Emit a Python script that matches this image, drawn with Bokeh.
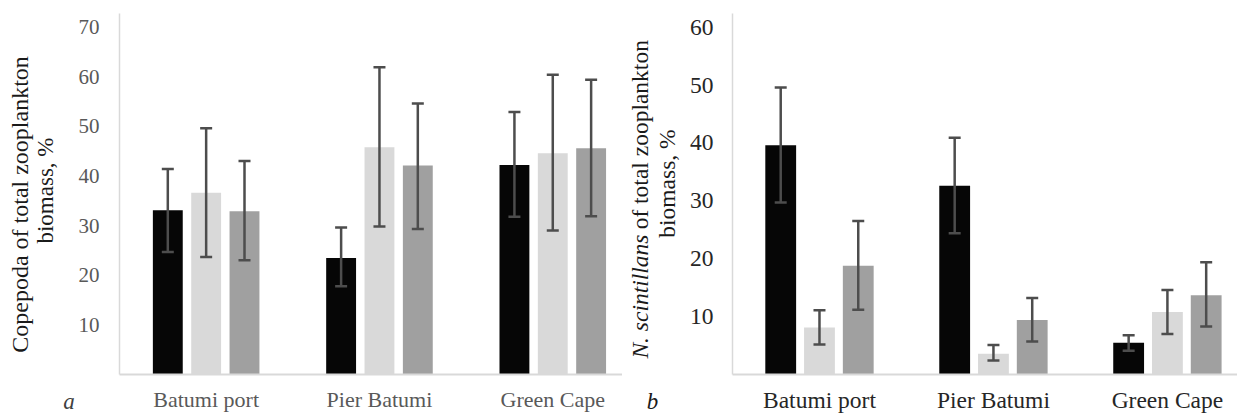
from bokeh.plotting import figure
from bokeh.models import (ColumnDataSource, Whisker, TeeHead, FixedTicker, Range1d)
from bokeh.core.properties import value
from bokeh.layouts import row
from bokeh.embed import file_html
from bokeh.resources import INLINE

# ---------------- data ----------------
categories = ["Batumi port", "Pier Batumi", "Green Cape"]
series_colors = ["#060606", "#d9d9d9", "#a0a0a0"]

# panel a: Copepoda share of total zooplankton biomass, %
cop_s1 = [33.1, 23.5, 42.2]
cop_s1_lo = [24.7, 17.8, 31.8]
cop_s1_hi = [41.4, 29.6, 52.9]
cop_s2 = [36.6, 45.8, 44.6]
cop_s2_lo = [23.7, 29.8, 29.0]
cop_s2_hi = [49.6, 61.9, 60.4]
cop_s3 = [32.9, 42.1, 45.6]
cop_s3_lo = [23.0, 29.3, 31.9]
cop_s3_hi = [43.0, 54.6, 59.4]

# panel b: N. scintillans share of total zooplankton biomass, %
noc_s1 = [39.6, 32.6, 5.5]
noc_s1_lo = [29.7, 24.4, 4.1]
noc_s1_hi = [49.6, 40.9, 6.8]
noc_s2 = [8.1, 3.6, 10.8]
noc_s2_lo = [5.2, 2.4, 7.0]
noc_s2_hi = [11.1, 5.1, 14.6]
noc_s3 = [18.8, 9.4, 13.7]
noc_s3_lo = [11.2, 5.7, 8.3]
noc_s3_hi = [26.5, 13.2, 19.4]

left_ticks = [10, 20, 30, 40, 50, 60, 70]
right_ticks = [10, 20, 30, 40, 50, 60]

SERIF = "Liberation Serif"
H = 416
TOP = 13      # common top border (px)
BOTTOM = 40   # common bottom border (px)
FRAME_H = H - TOP - BOTTOM
FRAME_BOTTOM = H - BOTTOM


def no_ticks(ax):
    ax.major_tick_line_color = None
    ax.minor_tick_line_color = None
    ax.major_tick_out = 0
    ax.major_tick_in = 0
    ax.minor_tick_out = 0
    ax.minor_tick_in = 0


def make_panel(series, ticks, width, border_left, x_end, px_per_unit, bar_w, offset,
               tick_size, cat_size, txt_color, standoff):
    p = figure(width=width, height=H, output_backend="svg", toolbar_location=None,
               x_range=Range1d(-0.5, x_end), y_range=Range1d(0, FRAME_H / px_per_unit),
               min_border_left=border_left, min_border_right=0,
               min_border_top=TOP, min_border_bottom=BOTTOM)
    p.outline_line_color = None
    p.xgrid.visible = False
    p.ygrid.visible = False

    for k, (vals, lo, hi) in enumerate(series):
        xs = [i + (k - 1) * offset for i in range(len(categories))]
        src = ColumnDataSource(dict(x=xs, top=vals, lo=lo, hi=hi))
        p.vbar(x="x", top="top", width=bar_w, bottom=0, source=src,
               fill_color=series_colors[k], line_color=None)
        w = Whisker(source=src, base="x", upper="hi", lower="lo", dimension="height",
                    line_color="#4d4d4d", line_width=2.5, level="annotation",
                    upper_head=TeeHead(size=12, line_color="#4d4d4d", line_width=2.5),
                    lower_head=TeeHead(size=12, line_color="#4d4d4d", line_width=2.5))
        p.add_layout(w)

    xa = p.xaxis[0]
    xa.ticker = FixedTicker(ticks=list(range(len(categories))))
    xa.major_label_overrides = {i: c for i, c in enumerate(categories)}
    no_ticks(xa)
    xa.axis_line_color = "#d9d9d9"
    xa.axis_line_width = 2
    xa.major_label_text_font = SERIF
    xa.major_label_text_font_size = cat_size
    xa.major_label_text_color = txt_color
    xa.major_label_standoff = 12

    ya = p.yaxis[0]
    ya.ticker = FixedTicker(ticks=ticks)
    no_ticks(ya)
    ya.axis_line_color = "#d9d9d9"
    ya.axis_line_width = 1.5
    ya.major_label_text_font = SERIF
    ya.major_label_text_font_size = tick_size
    ya.major_label_text_color = txt_color
    ya.major_label_standoff = standoff
    return p


def text_strip(width, letter, letter_x, letter_color):
    """Narrow figure holding the rotated axis titles; the panel letter is its x-axis label."""
    t = figure(width=width, height=H, output_backend="svg", toolbar_location=None,
               x_range=Range1d(0, width), y_range=Range1d(0, FRAME_H),
               x_axis_location="below", y_axis_location=None,
               min_border_left=0, min_border_right=0,
               min_border_top=TOP, min_border_bottom=BOTTOM)
    t.outline_line_color = None
    t.grid.visible = False
    ax = t.xaxis[0]
    ax.ticker = FixedTicker(ticks=[letter_x])
    ax.major_label_overrides = {letter_x: letter}
    ax.axis_line_color = None
    no_ticks(ax)
    ax.major_label_text_font = SERIF
    ax.major_label_text_font_style = "italic"
    ax.major_label_text_font_size = "23px"
    ax.major_label_text_color = letter_color
    ax.major_label_standoff = 14
    return t


def put(t, x, wy, s, size, color, style="normal", align="center"):
    # wy: vertical position in window pixels, converted to the strip's frame units
    t.text(x=[x], y=[FRAME_BOTTOM - wy], text=[s], angle=90, angle_units="deg",
           text_font=value(SERIF), text_font_size=size, text_font_style=style,
           text_color=color, text_align=align, text_baseline="middle")


# ---- panel a ----
W_TA = 75
ta = text_strip(W_TA, "a", 70, "#404040")
put(ta, 19, 205, "Copepoda of total zooplankton", "24px", "#1a1a1a")
put(ta, 45, 191, "biomass, %", "23px", "#1a1a1a")

left = make_panel(
    [(cop_s1, cop_s1_lo, cop_s1_hi), (cop_s2, cop_s2_lo, cop_s2_hi), (cop_s3, cop_s3_lo, cop_s3_hi)],
    left_ticks, 622 - W_TA, 117 - W_TA, -0.5 + 505 / 174, 4.99,
    30 / 174, 38.5 / 174, "21px", "22px", "#595959", 20)

# ---- panel b ----
W_TB = 64
tb = text_strip(W_TB, "b", 30, "#1a1a1a")
fs = 23.5
italic_em = 5.279 + 0.25  # width of "N. scintillans" plus a space, in em
start_wy = 360
put(tb, 17, start_wy, "N. scintillans", "23.5px", "#1a1a1a", style="italic", align="left")
put(tb, 17, start_wy - italic_em * fs, "of total zooplankton", "23.5px", "#1a1a1a", align="left")
put(tb, 44, 184, "biomass, %", "23.5px", "#1a1a1a")

right = make_panel(
    [(noc_s1, noc_s1_lo, noc_s1_hi), (noc_s2, noc_s2_lo, noc_s2_hi), (noc_s3, noc_s3_lo, noc_s3_hi)],
    right_ticks, 1237 - 622 - W_TB, 729 - 622 - W_TB, -0.5 + 508 / 175, 5.82,
    31 / 175, 39 / 175, "23.5px", "23.5px", "#262626", 19)

layout = row(ta, left, tb, right, spacing=0)
open("out.html", "w").write(file_html(layout, INLINE))
